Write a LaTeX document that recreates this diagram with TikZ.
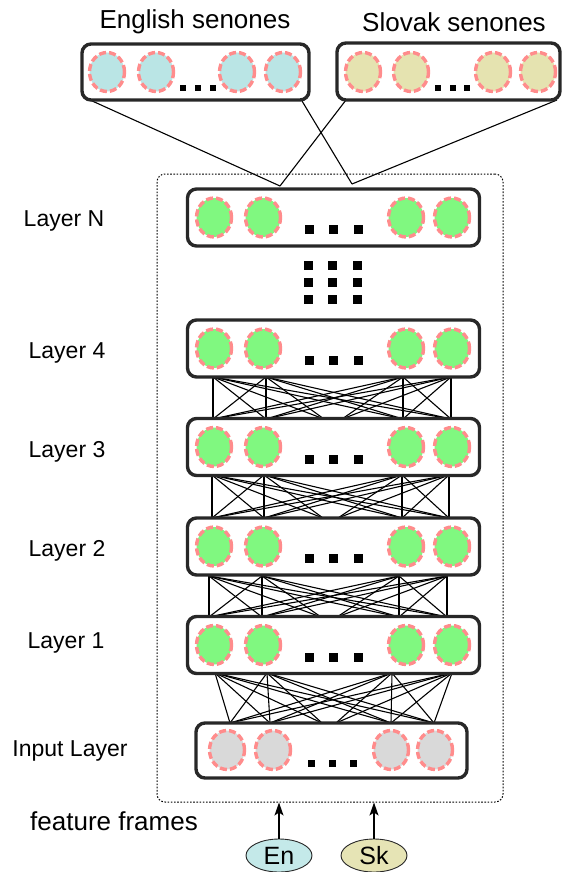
\documentclass[tikz,border=0pt]{standalone}
\usepackage{fontspec}
\setmainfont{Liberation Sans}
\usetikzlibrary{shapes.geometric,arrows.meta}

\definecolor{unitgreen}{RGB}{128,248,128}
\definecolor{unitgray}{RGB}{217,217,217}
\definecolor{unitcyan}{RGB}{186,229,229}
\definecolor{unitolive}{RGB}{229,227,176}
\definecolor{dashred}{RGB}{255,140,140}
\definecolor{boxgray}{RGB}{40,40,40}
\definecolor{encol}{RGB}{196,233,233}
\definecolor{skcol}{RGB}{230,228,181}

\begin{document}
\begin{tikzpicture}[x=1pt,y=-1pt,
  unit/.style={ellipse, draw=dashred, line width=3.4pt, dash pattern=on 7pt off 3pt,
    minimum width=35pt, minimum height=39pt, inner sep=0pt},
  layerbox/.style={draw=boxgray, fill=white, line width=3.4pt, rounded corners=9pt, inner sep=0pt},
  dotsq/.style={fill=black, minimum size=9pt, inner sep=0pt},
  smalldot/.style={fill=black, minimum size=6.5pt, inner sep=0pt},
  link/.style={line width=1.1pt},
  lname/.style={font=\fontsize{23}{27}\selectfont, anchor=base},
  bigname/.style={font=\fontsize{26}{30}\selectfont, anchor=base},
  frame/.style={draw, line width=1pt, dash pattern=on 1.6pt off 1.6pt, rounded corners=8pt, inner sep=0pt},
  lang/.style={ellipse, draw=boxgray, line width=0.9pt, inner sep=0pt,
    minimum width=66pt, minimum height=33pt, font=\fontsize{25}{28}\selectfont},
  feed/.style={line width=1.2pt, -{Stealth[length=13pt,width=9pt,inset=3pt]}}
]
\useasboundingbox (0,0) rectangle (564,872);

% outer dotted frame around the shared hidden stack
\node[frame, minimum width=346pt, minimum height=628pt] (frame) at (330,488) {};

% full connections between neighbouring layers
\foreach \g/\ty/\by/\ta/\tb/\tc/\td/\ba/\bb/\bm/\bn/\bc/\bd in {
    a/377/419/213/266/403/451/213/266/324/342/403/451,
    b/475/518/212/264/402/449/212/264/323/338/402/449,
    c/576/617/209/262/399/447/209/262/321/337/399/447,
    d/673/723/215/267/392/452/230/270/322/336/391/434} {
  \coordinate (\g t1) at (\ta,\ty);
  \coordinate (\g t2) at (\tb,\ty);
  \coordinate (\g t3) at (\tc,\ty);
  \coordinate (\g t4) at (\td,\ty);
  \coordinate (\g b1) at (\ba,\by);
  \coordinate (\g b2) at (\bb,\by);
  \coordinate (\g b3) at (\bc,\by);
  \coordinate (\g b4) at (\bd,\by);
  \coordinate (\g m1) at (\bm,\by);
  \coordinate (\g m2) at (\bn,\by);
  \foreach \i in {1,...,4}
    \foreach \j in {1,...,4}
      \draw[link] (\g t\i) -- (\g b\j);
  \draw[link] (\g t1) -- (\g m1);
  \draw[link] (\g t2) -- (\g m1);
  \draw[link] (\g t3) -- (\g m2);
  \draw[link] (\g t4) -- (\g m2);
}

% hidden layers
\foreach \nm/\cy in {N/217.5, 4/348.5, 3/447, 2/546.5, 1/645} {
  \node[layerbox, minimum width=292pt, minimum height=57pt] (box\nm) at (333.5,\cy) {};
  \foreach \i/\cx in {1/214, 2/263, 3/406, 4/452}
    \node[unit, fill=unitgreen] (u\nm\i) at (\cx,\cy) {};
  \foreach \i/\cx in {1/309, 2/333, 3/358}
    \node[dotsq] (d\nm\i) at (\cx,\cy+12) {};
}

% vertical ellipsis between layer 4 and layer N
\foreach \r/\ry in {1/265, 2/282, 3/299}
  \foreach \c/\rx in {1/308, 2/332, 3/357}
    \node[dotsq] (vd\r\c) at (\rx,\ry) {};

% input layer
\node[layerbox, minimum width=271pt, minimum height=55pt] (boxIn) at (331.5,750.5) {};
\foreach \i/\cx in {1/227, 2/273, 3/391, 4/435}
  \node[unit, fill=unitgray] (uIn\i) at (\cx,750) {};
\foreach \i/\cx in {1/311, 2/332, 3/353}
  \node[dotsq, minimum size=7pt] (dIn\i) at (\cx,763) {};

% output (senone) layers and their links to layer N
\coordinate (e1) at (90,100);
\coordinate (e2) at (302,101);
\coordinate (s1) at (346,100);
\coordinate (s2) at (557,100);
\coordinate (j1) at (280,186);
\coordinate (j2) at (352,184);
\draw[link] (e1) -- (j1);
\draw[link] (e2) -- (j2);
\draw[link] (s1) -- (j1);
\draw[link] (s2) -- (j2);

\node[layerbox, minimum width=227pt, minimum height=56pt] (boxEn) at (195.5,72) {};
\foreach \i/\cx in {1/107, 2/156, 3/237, 4/283}
  \node[unit, fill=unitcyan] (uEn\i) at (\cx,72) {};
\foreach \i/\cx in {1/183, 2/198, 3/213}
  \node[smalldot] (dEn\i) at (\cx,88) {};

\node[layerbox, minimum width=223pt, minimum height=57pt] (boxSk) at (448.5,71.5) {};
\foreach \i/\cx in {1/363, 2/411, 3/493, 4/538}
  \node[unit, fill=unitolive] (uSk\i) at (\cx,72) {};
\foreach \i/\cx in {1/438, 2/453, 3/467}
  \node[smalldot] (dSk\i) at (\cx,88) {};

% labels
\node[bigname] (tEn) at (195,29) {English senones};
\node[bigname] (tSk) at (454,32) {Slovak senones};
\node[lname] (tN) at (64,226) {Layer N};
\node[lname] (t4) at (67,358) {Layer 4};
\node[lname] (t3) at (67,457) {Layer 3};
\node[lname] (t2) at (67,556) {Layer 2};
\node[lname] (t1) at (66,648) {Layer 1};
\node[lname] (tIn) at (70,756) {Input Layer};
\node[bigname] (tFeat) at (114,830) {feature frames};

% language inputs
\node[lang, fill=encol] (en) at (279,855.5) {En};
\node[lang, fill=skcol] (sk) at (374,855.5) {Sk};
\draw[feed] (en.north) -- (en.north |- frame.south);
\draw[feed] (sk.north) -- (sk.north |- frame.south);
\end{tikzpicture}
\end{document}
